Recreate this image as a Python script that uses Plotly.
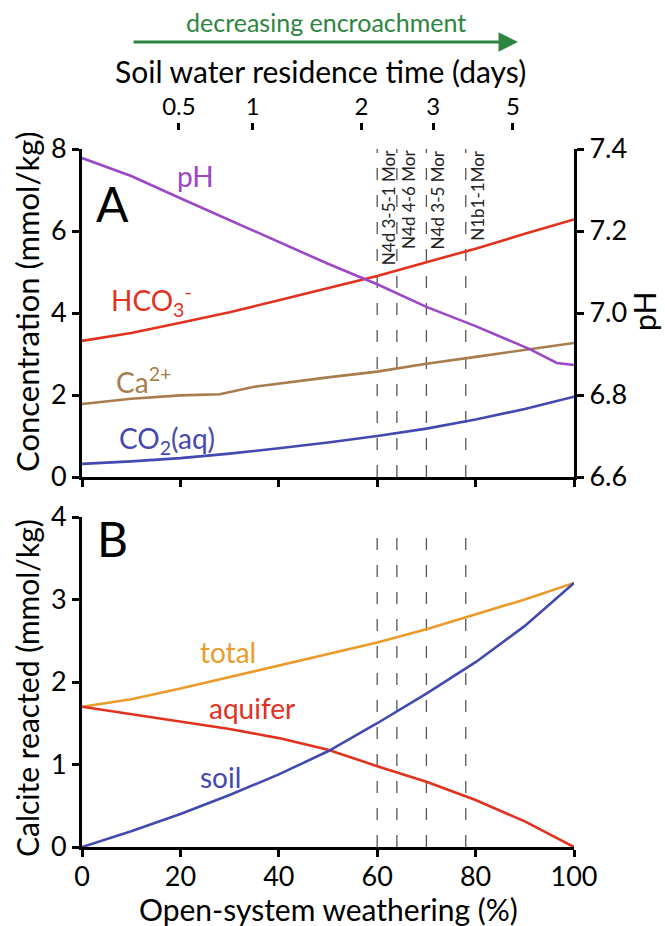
import plotly.graph_objects as go

# ---------------- data ----------------
weathering_pct = [0, 10, 20, 30, 40, 50, 60, 70, 80, 90, 100]

ph_x = [0, 10, 20, 30, 40, 50, 60, 70, 80, 91, 96.5, 100]
ph_vals = [7.378, 7.334, 7.280, 7.227, 7.173, 7.120, 7.070, 7.015, 6.968, 6.912, 6.878, 6.873]

hco3_vals = [3.32, 3.51, 3.76, 4.02, 4.31, 4.60, 4.90, 5.24, 5.57, 5.93, 6.28]

ca_x = [0, 10, 20, 28, 35, 40, 50, 60, 70, 80, 90, 100]
ca_vals = [1.78, 1.91, 1.99, 2.02, 2.20, 2.28, 2.43, 2.57, 2.76, 2.93, 3.10, 3.27]

co2_vals = [0.32, 0.38, 0.46, 0.57, 0.70, 0.84, 1.00, 1.18, 1.40, 1.66, 1.96]

total_vals = [1.70, 1.79, 1.92, 2.06, 2.20, 2.34, 2.48, 2.64, 2.82, 3.00, 3.20]
aquifer_vals = [1.70, 1.61, 1.52, 1.43, 1.32, 1.18, 0.98, 0.79, 0.57, 0.31, 0.0]
soil_vals = [0.0, 0.19, 0.40, 0.63, 0.88, 1.16, 1.50, 1.86, 2.24, 2.68, 3.20]

sample_pct = [60, 64, 70, 78]
sample_names = ["N4d 3-5-1 Mor", "N4d 4-6 Mor", "N4d 3-5 Mor", "N1b1-1Mor"]

residence_days = ["0.5", "1", "2", "3", "5"]
residence_pos_pct = [19.7, 34.7, 56.8, 71.4, 87.6]

x_ticks = [0, 20, 40, 60, 80, 100]

# ---------------- style ----------------
W, H = 665, 926
FONT = "Lato"
C_PH = "#9b47c8"
C_HCO3 = "#e2311f"
C_CA = "#a87c4c"
C_CO2 = "#4349b0"
C_TOT = "#ec9b2b"
C_GREEN = "#2e8540"


def px_x(p):
    return p / W


def px_y(p):
    return 1 - p / H


XD = [px_x(82), px_x(574)]
YA = [px_y(477), px_y(149)]
YB = [px_y(847), px_y(517)]

fig = go.Figure()

lw = 2.6
fig.add_trace(go.Scatter(x=weathering_pct, y=hco3_vals, mode="lines",
                         line=dict(color=C_HCO3, width=lw), xaxis="x", yaxis="y"))
fig.add_trace(go.Scatter(x=ca_x, y=ca_vals, mode="lines",
                         line=dict(color=C_CA, width=lw), xaxis="x", yaxis="y"))
fig.add_trace(go.Scatter(x=weathering_pct, y=co2_vals, mode="lines",
                         line=dict(color=C_CO2, width=lw), xaxis="x", yaxis="y"))
fig.add_trace(go.Scatter(x=ph_x, y=ph_vals, mode="lines",
                         line=dict(color=C_PH, width=lw), xaxis="x", yaxis="y2"))

fig.add_trace(go.Scatter(x=weathering_pct, y=total_vals, mode="lines",
                         line=dict(color=C_TOT, width=lw), xaxis="x2", yaxis="y3"))
fig.add_trace(go.Scatter(x=weathering_pct, y=aquifer_vals, mode="lines",
                         line=dict(color=C_HCO3, width=lw), xaxis="x2", yaxis="y3"))
fig.add_trace(go.Scatter(x=weathering_pct, y=soil_vals, mode="lines",
                         line=dict(color=C_CO2, width=lw), xaxis="x2", yaxis="y3"))

# invisible trace so the top axis is drawn
fig.add_trace(go.Scatter(x=[0, 100], y=[0, 0], mode="lines", line=dict(width=0),
                         opacity=0, hoverinfo="skip", xaxis="x3", yaxis="y"))

axis_common = dict(showline=True, linecolor="black", linewidth=3, ticks="outside",
                   ticklen=7, tickwidth=3, tickcolor="black", showgrid=False,
                   zeroline=False, tickfont=dict(family=FONT, size=27, color="black"),
                   mirror=False, automargin=False)

fig.update_layout(
    width=W, height=H,
    margin=dict(l=0, r=0, t=0, b=0),
    paper_bgcolor="white", plot_bgcolor="white",
    showlegend=False,
    font=dict(family=FONT, color="black"),
    xaxis=dict(domain=XD, range=[0, 100], anchor="y", tickvals=x_ticks,
               showticklabels=False, **axis_common),
    yaxis=dict(domain=YA, range=[0, 8], anchor="x", dtick=2, **axis_common),
    yaxis2=dict(range=[6.6, 7.4], overlaying="y", side="right", anchor="x",
                dtick=0.2, tickformat=".1f", **axis_common),
    xaxis2=dict(domain=XD, range=[0, 100], anchor="y3", tickvals=x_ticks,
                ticklabelstandoff=-3, **axis_common),
    yaxis3=dict(domain=YB, range=[0, 4], anchor="x2", dtick=1, **axis_common),
    xaxis3=dict(range=[0, 100], overlaying="x", side="top", anchor="free",
                position=px_y(130), tickvals=residence_pos_pct, ticktext=residence_days,
                showline=False, ticks="outside", ticklen=7, tickwidth=3,
                tickcolor="black", showgrid=False, zeroline=False, ticklabelstandoff=-2,
                tickfont=dict(family=FONT, size=24, color="black")),
)

# dashed sample lines
for p in sample_pct:
    fig.add_shape(type="line", xref="x", yref="y domain", x0=p, x1=p, y0=0, y1=1,
                  line=dict(color="#555555", width=1.3, dash="12px,15px"), layer="below")
    fig.add_shape(type="line", xref="x2", yref="y3 domain", x0=p, x1=p, y0=0, y1=0.98,
                  line=dict(color="#555555", width=1.3, dash="12px,15px"), layer="below")

for p, name in zip(sample_pct, sample_names):
    fig.add_annotation(x=p, y=1, xref="x", yref="y domain", text=name, textangle=-90,
                       xanchor="left", yanchor="top", showarrow=False, borderpad=0,
                       font=dict(family=FONT, size=17, color="#222222"))


def ann(text, x, y, size, color="black", xanchor="center", yanchor="middle",
        xref="paper", yref="paper", angle=0):
    fig.add_annotation(text=text, x=x, y=y, xref=xref, yref=yref, showarrow=False,
                       xanchor=xanchor, yanchor=yanchor, textangle=angle,
                       font=dict(family=FONT, size=size, color=color))


# panel letters
ann("A", px_x(112), px_y(203), 48)
ann("B", px_x(112), px_y(538), 48)

# curve labels panel A
ann("pH", px_x(196), px_y(176), 28, C_PH)
ann("HCO<sub>3</sub><sup>-</sup>", px_x(109), px_y(300), 28, C_HCO3, xanchor="left")
ann("Ca<sup>2+</sup>", px_x(114), px_y(380), 28, C_CA, xanchor="left")
ann("CO<sub>2</sub>(aq)", px_x(117), px_y(440), 28, C_CO2, xanchor="left")

# curve labels panel B
ann("total", px_x(228), px_y(652), 28, C_TOT)
ann("aquifer", px_x(252), px_y(708), 28, C_HCO3)
ann("soil", px_x(220), px_y(777), 28, C_CO2)

# axis titles
ann("Concentration (mmol/kg)", px_x(27), px_y(302), 31, angle=-90)
ann("Calcite reacted (mmol/kg)", px_x(27), px_y(688), 30, angle=-90)
ann("pH", px_x(644), px_y(312), 30, angle=-90)
ann("Open-system weathering (%)", px_x(328), px_y(909), 30)
ann("Soil water residence time (days)", px_x(320), px_y(71), 30)

# encroachment arrow
fig.add_annotation(x=px_x(518), y=px_y(42), xref="paper", yref="paper",
                   ax=-(518 - 132), ay=0, text="", showarrow=True,
                   arrowhead=2, arrowsize=1.3, arrowwidth=3, arrowcolor=C_GREEN)
ann("decreasing encroachment", px_x(326), px_y(22), 25, C_GREEN)

fig.write_html("out.html")
